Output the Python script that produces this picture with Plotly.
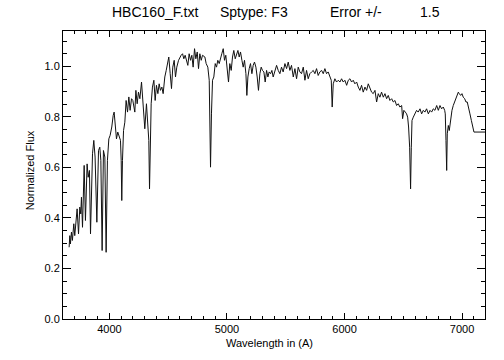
import plotly.graph_objects as go

wavelength = [
    3657, 3663, 3668, 3677, 3685, 3697, 3705, 3717, 3725, 3737, 3748, 3756, 3762, 3771,
    3785, 3796, 3810, 3819, 3830, 3839, 3850, 3856, 3867, 3878, 3893, 3907, 3918, 3927,
    3938, 3949, 3961, 3972, 3983, 3995, 4006, 4020, 4032, 4040, 4051, 4060, 4071, 4083,
    4094, 4100, 4105, 4111, 4120, 4131, 4142, 4154, 4165, 4176, 4188, 4199,
    4216, 4225, 4236, 4247, 4259, 4273, 4287, 4301, 4315, 4327, 4335, 4341, 4347, 4355,
    4366, 4378, 4389, 4400, 4412, 4423, 4434, 4446, 4457, 4471, 4483, 4494, 4505, 4517,
    4528, 4539, 4551, 4562, 4573, 4588, 4599, 4610, 4622, 4633, 4644, 4656, 4667, 4678,
    4690, 4701, 4712, 4724, 4735, 4747, 4758, 4769, 4781, 4792,
    4812, 4823, 4837, 4849, 4854, 4860, 4868, 4877, 4888, 4900, 4911, 4922, 4934, 4945,
    4956, 4968, 4979, 4990, 5002, 5013, 5024, 5036, 5047, 5058, 5070, 5081, 5093, 5104,
    5115, 5127, 5138, 5149, 5161, 5169, 5178, 5189, 5200, 5212, 5223, 5234, 5246, 5257,
    5268, 5280, 5291, 5302, 5314, 5325, 5337, 5348, 5359, 5371, 5382, 5393,
    5408, 5422, 5436, 5450, 5464, 5478, 5493, 5507, 5521, 5535, 5549, 5564, 5578, 5592,
    5606, 5620, 5634, 5649, 5663, 5677, 5691, 5705, 5720, 5734, 5748, 5762, 5776, 5790,
    5805, 5819, 5833, 5847, 5861, 5876, 5887, 5895, 5904, 5918, 5932, 5947, 5961, 5975, 5989,
    6003, 6018, 6032, 6046, 6060, 6074, 6088, 6103, 6117, 6131, 6145, 6159, 6174, 6188,
    6202, 6216, 6230, 6244, 6259, 6273, 6287, 6301, 6315, 6330, 6344, 6358, 6372, 6386,
    6401, 6415, 6429, 6443, 6457, 6471, 6486, 6494, 6505, 6517, 6528, 6537, 6545, 6554,
    6562, 6568, 6574, 6585, 6596,
    6613, 6627, 6642, 6656, 6670, 6684, 6698, 6713, 6727, 6741, 6755, 6769, 6784, 6798,
    6812, 6826, 6840, 6852, 6857, 6863, 6869, 6874, 6883, 6891, 6903, 6914, 6925, 6937,
    6948, 6959, 6968, 6976, 6988, 6999, 7010, 7022, 7033, 7044, 7056, 7067, 7079, 7090,
    7101, 7195,
]

flux = [
    0.284, 0.330, 0.297, 0.344, 0.311, 0.377, 0.330, 0.416, 0.436, 0.337, 0.443, 0.416, 0.482, 0.363,
    0.608, 0.390, 0.614, 0.561, 0.588, 0.337, 0.628, 0.654, 0.707, 0.641, 0.383, 0.667, 0.680, 0.628,
    0.271, 0.667, 0.641, 0.264, 0.628, 0.713, 0.727, 0.760, 0.806, 0.819, 0.760, 0.713, 0.740, 0.720,
    0.707, 0.628, 0.469, 0.628, 0.746, 0.779, 0.865, 0.819, 0.879, 0.826, 0.872, 0.865,
    0.819, 0.905, 0.852, 0.898, 0.872, 0.938, 0.839, 0.753, 0.852, 0.786, 0.707, 0.515, 0.707, 0.852,
    0.918, 0.945, 0.865, 0.925, 0.892, 0.931, 0.905, 0.918, 0.892, 0.958, 0.984, 1.011, 1.037, 0.971,
    0.912, 0.997, 1.024, 0.958, 0.997, 1.024, 1.037, 1.044, 1.050, 1.030, 1.044, 1.024, 1.004, 1.050,
    1.024, 1.044, 0.997, 1.070, 1.030, 1.057, 0.991, 1.050, 1.024, 1.044,
    1.037, 1.011, 0.997, 0.945, 0.839, 0.601, 0.812, 0.945, 0.958, 1.011, 0.997, 1.024, 1.011, 1.037,
    1.050, 1.070, 1.024, 1.044, 0.984, 0.938, 1.011, 0.984, 1.037, 1.063, 1.030, 1.050, 1.063, 1.037,
    1.057, 1.024, 0.997, 1.024, 0.971, 0.885, 0.958, 0.991, 1.011, 0.971, 1.004, 1.017, 0.997, 0.958,
    0.905, 0.971, 0.997, 0.984, 0.978, 0.938, 0.984, 0.958, 0.978, 0.971, 0.984, 0.958,
    0.978, 1.004, 0.984, 0.971, 0.997, 0.978, 1.011, 0.991, 1.017, 0.984, 1.004, 0.958, 0.991, 0.951,
    0.997, 0.978, 0.971, 0.997, 0.945, 0.984, 0.951, 0.971, 0.978, 0.984, 0.971, 0.991, 0.964, 0.978,
    0.984, 0.971, 0.991, 0.971, 0.978, 0.958, 0.945, 0.839, 0.931, 0.951, 0.938, 0.945, 0.938, 0.951, 0.938,
    0.945, 0.925, 0.945, 0.951, 0.938, 0.945, 0.931, 0.938, 0.918, 0.905, 0.925, 0.898, 0.918, 0.905,
    0.931, 0.912, 0.898, 0.892, 0.905, 0.859, 0.892, 0.878, 0.898, 0.878, 0.892, 0.872, 0.885, 0.865,
    0.872, 0.859, 0.865, 0.845, 0.852, 0.839, 0.845, 0.793, 0.826, 0.819, 0.812, 0.799, 0.760, 0.680,
    0.515, 0.680, 0.786, 0.799, 0.812,
    0.826, 0.819, 0.832, 0.812, 0.826, 0.819, 0.832, 0.812, 0.826, 0.819, 0.832, 0.826, 0.845, 0.826,
    0.845, 0.832, 0.839, 0.826, 0.812, 0.707, 0.588, 0.733, 0.766, 0.746, 0.799, 0.826, 0.845, 0.859,
    0.872, 0.892, 0.898, 0.892, 0.885, 0.892, 0.878, 0.872, 0.859, 0.859, 0.839, 0.812, 0.786, 0.760,
    0.740, 0.740,
]

x_range = [3605, 7195]
y_range = [0.0, 1.14]
x_ticks = [4000, 5000, 6000, 7000]
y_ticks = [0.0, 0.2, 0.4, 0.6, 0.8, 1.0]

title_parts = ["HBC160_F.txt", "Sptype: F3", "Error +/-", "1.5"]
title_pos = [0.111, 0.367, 0.628, 0.841]
x_title = "Wavelength in (A)"
y_title = "Normalized Flux"

FONT = "Liberation Sans, Arial, sans-serif"

fig = go.Figure()
fig.add_trace(go.Scatter(
    x=wavelength, y=flux, mode="lines",
    line=dict(color="#111111", width=1),
    hoverinfo="skip", showlegend=False,
))

axis_common = dict(
    showline=True, linecolor="black", linewidth=1, mirror="allticks",
    ticks="inside", tickcolor="black", tickwidth=1,
    showgrid=False, zeroline=False,
    tickfont=dict(family=FONT, size=11, color="black"),
)

fig.update_xaxes(
    range=x_range, tickvals=x_ticks, ticklen=6,
    minor=dict(dtick=100, tick0=0, ticks="inside", ticklen=3, tickcolor="black", showgrid=False),
    **axis_common,
)
fig.update_yaxes(
    range=y_range, tickvals=y_ticks, tickformat=".1f", ticklen=8,
    minor=dict(dtick=0.05, tick0=0, ticks="inside", ticklen=4, tickcolor="black", showgrid=False),
    **axis_common,
)

for txt, pos in zip(title_parts, title_pos):
    fig.add_annotation(text=txt, x=pos, y=1.066, xref="paper", yref="paper",
                       xanchor="left", yanchor="middle", showarrow=False,
                       font=dict(family=FONT, size=14, color="black"))

fig.add_annotation(text=x_title, x=0.49, y=-0.083, xref="paper", yref="paper",
                   xanchor="center", yanchor="middle", showarrow=False,
                   font=dict(family=FONT, size=11, color="black"))
fig.add_annotation(text=y_title, x=-0.078, y=0.517, xref="paper", yref="paper",
                   xanchor="center", yanchor="middle", showarrow=False, textangle=-90,
                   font=dict(family=FONT, size=11, color="black"))

fig.update_layout(
    width=504, height=360,
    margin=dict(l=63, r=19, t=31, b=41, autoexpand=False),
    paper_bgcolor="white", plot_bgcolor="white",
)

# Remove the browser's default 8px body margin so the figure fills the window.
fig.write_html("out.html",
               config={"displayModeBar": False, "staticPlot": True},
               post_script="document.body.style.margin='0';document.body.style.overflow='hidden';")
